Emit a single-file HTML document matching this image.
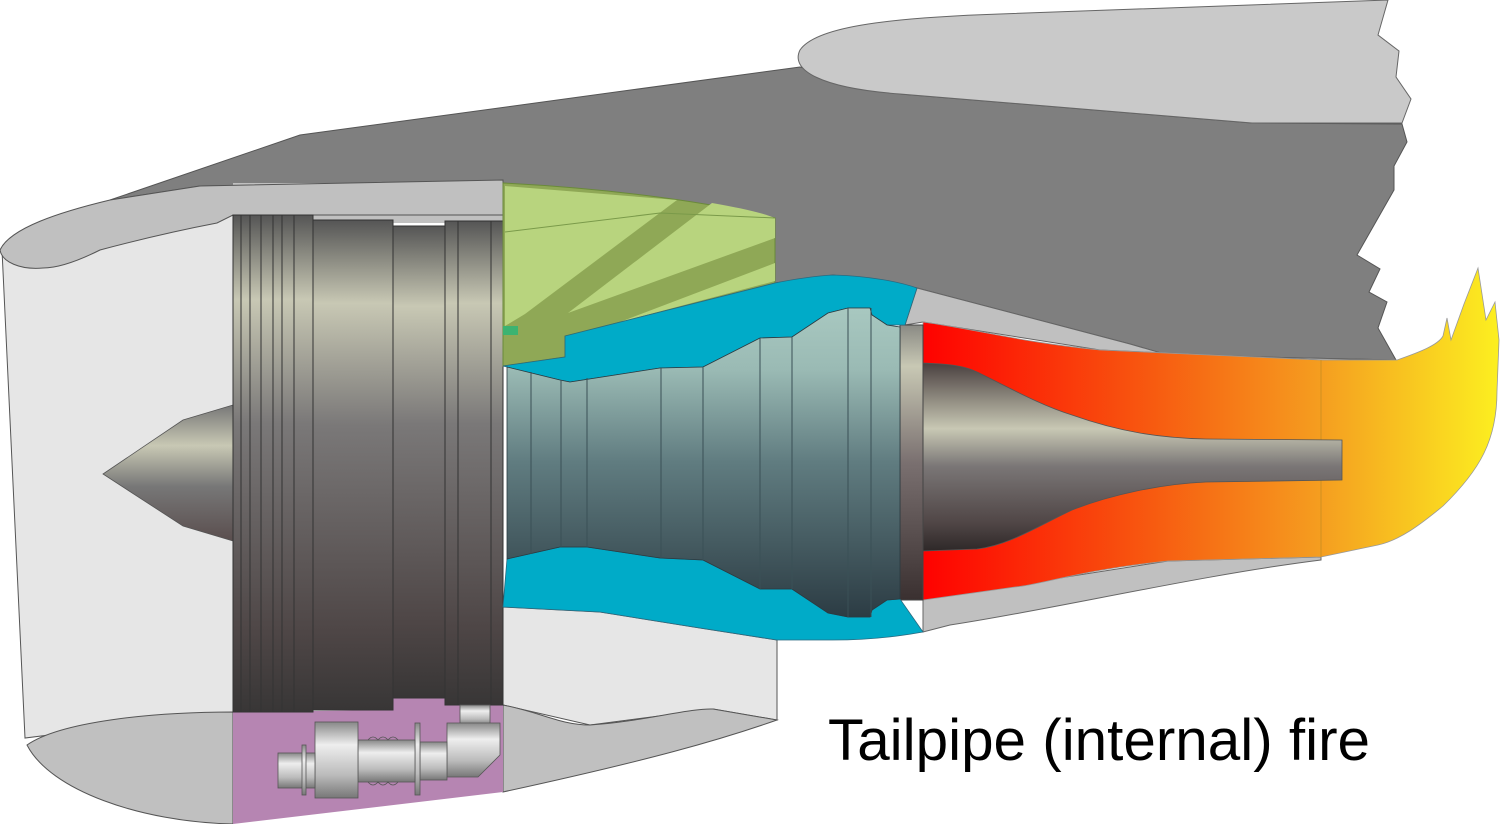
<!DOCTYPE html>
<html><head><meta charset="utf-8"><style>
html,body{margin:0;padding:0;background:#fff;width:1500px;height:824px;overflow:hidden}
svg{display:block}
text{font-family:"Liberation Sans",sans-serif}
</style></head><body>
<svg width="1500" height="824" viewBox="0 0 1500 824" xmlns="http://www.w3.org/2000/svg">
<defs>
<linearGradient id="fan" x1="0" y1="0" x2="0" y2="1">
<stop offset="0" stop-color="#555"/><stop offset="0.17" stop-color="#c8c8b4"/><stop offset="0.42" stop-color="#7a7878"/><stop offset="0.84" stop-color="#4e4646"/><stop offset="1" stop-color="#383636"/>
</linearGradient>
<linearGradient id="spin" x1="0" y1="0" x2="0" y2="1">
<stop offset="0" stop-color="#777"/><stop offset="0.3" stop-color="#c8c8b4"/><stop offset="0.6" stop-color="#777"/><stop offset="1" stop-color="#5a4e4e"/>
</linearGradient>
<linearGradient id="core" x1="0" y1="0" x2="0" y2="1">
<stop offset="0" stop-color="#a8c8c0"/><stop offset="0.2" stop-color="#9abab4"/><stop offset="0.5" stop-color="#607c80"/><stop offset="1" stop-color="#2c3c44"/>
</linearGradient>
<linearGradient id="cone" x1="0" y1="0" x2="0" y2="1">
<stop offset="0" stop-color="#4a4040"/><stop offset="0.35" stop-color="#c8c8b4"/><stop offset="0.55" stop-color="#7a7676"/><stop offset="0.85" stop-color="#504646"/><stop offset="1" stop-color="#2e2828"/>
</linearGradient>
<linearGradient id="flange" x1="0" y1="0" x2="0" y2="1">
<stop offset="0" stop-color="#8a8a84"/><stop offset="0.15" stop-color="#c8c8b4"/><stop offset="0.5" stop-color="#7a7070"/><stop offset="1" stop-color="#3a3030"/>
</linearGradient>
<linearGradient id="flame" x1="920" y1="0" x2="1500" y2="0" gradientUnits="userSpaceOnUse">
<stop offset="0" stop-color="#ff0000"/><stop offset="0.4" stop-color="#f75a10"/><stop offset="0.7" stop-color="#f5a020"/><stop offset="1" stop-color="#fcf020"/>
</linearGradient>
<linearGradient id="silver" x1="0" y1="0" x2="0" y2="1">
<stop offset="0" stop-color="#888"/><stop offset="0.3" stop-color="#eee"/><stop offset="0.7" stop-color="#bbb"/><stop offset="1" stop-color="#777"/>
</linearGradient>
</defs>

<path d="M110,200 L300,135 L800,67 L900,94 L1252,123 L1402,124 L1407,142 L1394,166 L1394,190 L1357,255 L1380,269 L1369,292 L1387,302 L1378,328 L1396,360 L1168,355 L1130,344 L917,288 L833,275 L775,283 L775,218 L503,183 L200,186 Z" fill="#7f7f7f" stroke="#555" stroke-width="1"/>
<path d="M900,94 C820,88 790,70 800,50 C815,28 880,18 1000,14 L1388,0 L1378,35 L1399,51 L1396,77 L1411,99 L1402,123 L1252,123 Z" fill="#c9c9c9" stroke="#666" stroke-width="1"/>
<path d="M917,288 L1130,344 L1168,355 L1396,360 L1321,360 L1100,350 L923,322 L905,325 Z" fill="#c0c0c0" stroke="#666" stroke-width="1"/>
<path d="M923,597 L1015,585 L1168,561 L1321,557 L1321,560 C1200,575 1050,610 950,625 L923,632 Z" fill="#c0c0c0" stroke="#666" stroke-width="1"/>

<path d="M923,322 C980,330 1020,342 1100,350 L1321,360 L1397,360 C1420,352 1438,345 1443,336 L1447,318 L1451,340 L1464,304 L1478,268 L1486,320 L1495,302 L1499,340 L1497,391 C1497,440 1480,470 1443,506 C1420,525 1400,540 1378,545 L1321,557 L1168,561 C1080,570 1040,585 1015,587 L923,600 Z" fill="url(#flame)" stroke="#999" stroke-width="0.8"/>
<line x1="1321" y1="360" x2="1321" y2="557" stroke="#d09020" stroke-width="1"/>
<path d="M923,363 C950,364 965,366 977,372 C1010,388 1040,405 1072,415 C1120,432 1160,438 1206,439 L1342,440 L1342,480 L1206,482 C1160,484 1110,495 1072,510 C1040,525 1010,545 977,549 L923,551 Z" fill="url(#cone)" stroke="#555" stroke-width="0.8"/>
<rect x="900" y="325" width="23" height="275" fill="url(#flange)" stroke="#444" stroke-width="1"/>

<path d="M2,250 L233,215 L233,712 L25,738 Z" fill="#e6e6e6" stroke="#555" stroke-width="1"/>
<rect x="233" y="183" width="270" height="40" fill="#c0c0c0"/>
<path d="M0,250 C10,228 60,212 110,200 L200,186 L503,180 L503,215 L233,215 L217,223 C170,232 130,242 100,250 C80,260 60,268 43,268 C20,270 2,262 0,250 Z" fill="#c0c0c0" stroke="#555" stroke-width="1"/>
<path d="M27,745 C60,722 150,712 233,712 L233,824 C140,822 50,790 27,745 Z" fill="#c0c0c0" stroke="#555" stroke-width="1"/>
<path d="M503,607 L600,612 L700,628 L777,640 L777,720 L713,709 L590,725 L503,705 Z" fill="#e6e6e6" stroke="#555" stroke-width="1"/>
<path d="M503,705 C540,712 560,725 590,725 C640,722 690,708 713,709 L777,720 C720,740 650,760 503,792 Z" fill="#c0c0c0" stroke="#555" stroke-width="1"/>

<path d="M103,474 L183,420 L233,405 L233,541 L183,526 Z" fill="url(#spin)" stroke="#555" stroke-width="0.8"/>

<path d="M233,712 L393,710 L393,698 L445,698 L445,705 L503,705 L503,792 L233,824 Z" fill="#b685b2"/>
<g stroke="#333" stroke-width="1">
<rect x="233" y="215" width="80" height="497" fill="url(#fan)"/>
<rect x="313" y="220" width="80" height="490" fill="url(#fan)"/>
<rect x="393" y="226" width="52" height="472" fill="url(#fan)"/>
<rect x="445" y="221" width="58" height="484" fill="url(#fan)"/>
<line x1="241" y1="215" x2="241" y2="712"/><line x1="250" y1="215" x2="250" y2="712"/>
<line x1="261" y1="215" x2="261" y2="712"/><line x1="273" y1="215" x2="273" y2="712"/>
<line x1="282" y1="215" x2="282" y2="712"/><line x1="294" y1="215" x2="294" y2="712"/>
<line x1="458" y1="221" x2="458" y2="705"/><line x1="491" y1="221" x2="491" y2="705"/>
</g>
<g stroke="#555" stroke-width="0.8" fill="url(#silver)">
<rect x="460" y="705" width="30" height="20"/>
<path d="M447,723 L500,723 L500,755 L478,777 L447,777 Z"/>
<rect x="420" y="742" width="27" height="38"/>
<rect x="415" y="723" width="5" height="72"/>
<rect x="358" y="740" width="57" height="42"/>
<path d="M368,740 q5,-6 10,0 q5,-6 10,0 q5,-6 10,0" fill="none"/>
<path d="M368,782 q5,6 10,0 q5,6 10,0 q5,6 10,0" fill="none"/>
<rect x="315" y="722" width="43" height="76"/>
<rect x="278" y="753" width="37" height="35"/>
<rect x="302" y="745" width="4" height="50"/>
</g>

<path d="M503,183 C600,188 700,200 775,218 L775,283 L565,336 L565,357 L503,366 Z" fill="#8fa856" stroke="#6a8a3a" stroke-width="1"/>
<path d="M505,186 L677,200 L525,314 L505,326 Z" fill="#b8d47e"/>
<path d="M712,203 C740,208 760,212 775,218 L775,238 L568,313 Z" fill="#b8d47e"/>
<path d="M775,263 L775,281 L620,322 Z" fill="#b8d47e"/>
<path d="M505,232 L660,213 L775,218" fill="none" stroke="#7a9a4a" stroke-width="1"/>
<rect x="503" y="326" width="15" height="9" fill="#3cb371"/>

<path d="M503,366 L565,357 L565,336 L775,283 C800,278 815,276 833,275 C870,276 900,282 917,288 L905,325 L887,325 L872,315 L870,308 L848,308 L828,313 L792,337 L760,338 L703,367 L660,368 L570,382 L560,380 L507,367 Z" fill="#00abc8" stroke="#2a6a80" stroke-width="0.8"/>
<path d="M507,559 L560,547 L587,547 L660,558 L703,560 L760,589 L792,589 L828,613 L848,617 L870,617 L872,610 L887,600 L900,599 L923,632 C890,638 860,640 833,640 L777,640 L700,628 L600,612 L503,607 Z" fill="#00abc8" stroke="#2a6a80" stroke-width="0.8"/>
<path d="M507,367 L560,380 L570,382 L660,368 L703,367 L760,338 L792,337 L828,313 L848,308 L870,308 L872,315 L887,325 L900,327 L900,599 L887,600 L872,610 L870,617 L848,617 L828,613 L792,589 L760,589 L703,560 L660,558 L587,547 L560,547 L507,559 Z" fill="url(#core)" stroke="#2a3a40" stroke-width="0.8"/>
<g stroke="#3a5056" stroke-width="1">
<line x1="531" y1="372" x2="531" y2="554"/><line x1="561" y1="380" x2="561" y2="547"/>
<line x1="587" y1="378" x2="587" y2="547"/><line x1="661" y1="368" x2="661" y2="558"/>
<line x1="703" y1="367" x2="703" y2="560"/><line x1="760" y1="338" x2="760" y2="589"/>
<line x1="792" y1="337" x2="792" y2="589"/><line x1="848" y1="308" x2="848" y2="617"/>
<line x1="871" y1="308" x2="871" y2="617"/>
</g>

<text x="828" y="760" font-size="58" fill="#000" textLength="542" lengthAdjust="spacingAndGlyphs">Tailpipe (internal) fire</text>
</svg>
</body></html>
